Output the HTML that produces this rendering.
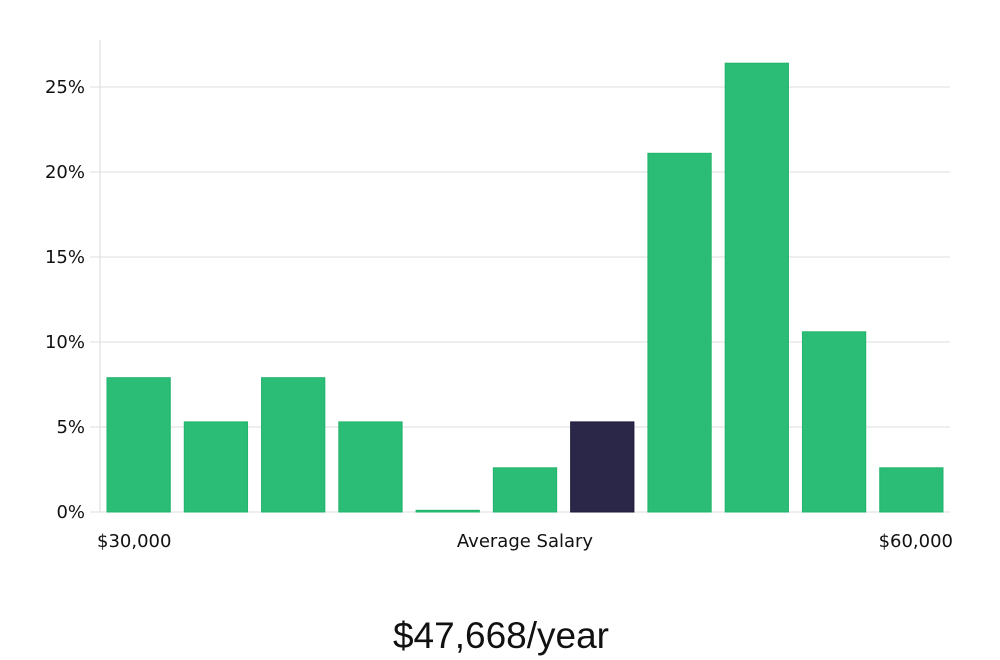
<!DOCTYPE html>
<html><head><meta charset="utf-8"><style>
html,body{margin:0;padding:0;background:#fff;width:1000px;height:660px;overflow:hidden}
svg text{font-family:"DejaVu Sans","Liberation Sans",sans-serif;fill:#111}
</style></head><body>
<svg id="chart" width="1000" height="660" xmlns="http://www.w3.org/2000/svg">
<g id="grid"></g><g id="bars"></g><g id="labels"></g>
<text x="97" y="547" font-size="18">$30,000</text>
<text x="525" y="547" font-size="18" text-anchor="middle">Average Salary</text>
<text x="953" y="547" font-size="18" text-anchor="end">$60,000</text>
<text x="501" y="648" font-size="37" text-anchor="middle" style="font-family:'Liberation Sans',sans-serif;font-weight:300">$47,668/year</text>
</svg>
<script>
const bins = ["b1","b2","b3","b4","b5","b6","b7","b8","b9","b10","b11"];
const values = [7.9,5.3,7.9,5.3,0.1,2.6,5.3,21.1,26.4,10.6,2.6];
const highlight = [false,false,false,false,false,false,true,false,false,false,false];
const yTicks = [0,5,10,15,20,25];
const yTickLabels = ["0%","5%","10%","15%","20%","25%"];
const NS="http://www.w3.org/2000/svg";
const x0=100,x1=950,y0=512,pxPer=17;
const y=v=>y0-v*pxPer;
const slot=(x1-x0)/bins.length;
const xb=i=>x0+i*slot;
const grid=document.getElementById('grid');
function mk(t,a,p){const e=document.createElementNS(NS,t);for(const k in a)e.setAttribute(k,a[k]);p.appendChild(e);return e;}
const ax=mk('line',{x1:x0,x2:x0,y1:40,y2:y0,stroke:'#d8d8d8','stroke-width':1},grid);


yTicks.forEach((t,i)=>{
 const l=mk('line',{x1:90,x2:x1,y1:y(t),y2:y(t),stroke:'#dedede','stroke-width':1},grid);
 
 
 const tx=mk('text',{x:85,y:y(t)+6,'font-size':18,'text-anchor':'end'},document.getElementById('labels'));
 tx.textContent=yTickLabels[i];
 
 
});
const bg=document.getElementById('bars');
values.forEach((v,i)=>{
 const h=Math.max(v*pxPer,1);
 const c=highlight[i]?'#2b2748':'#2bbd76';
 const r=mk('rect',{x:xb(i)+7,y:y0-h,width:slot-14,height:h,fill:c,stroke:highlight[i]?'#1e1a3a':'#22b36c','stroke-width':1},bg);
 
 
});
</script>
</body></html>
